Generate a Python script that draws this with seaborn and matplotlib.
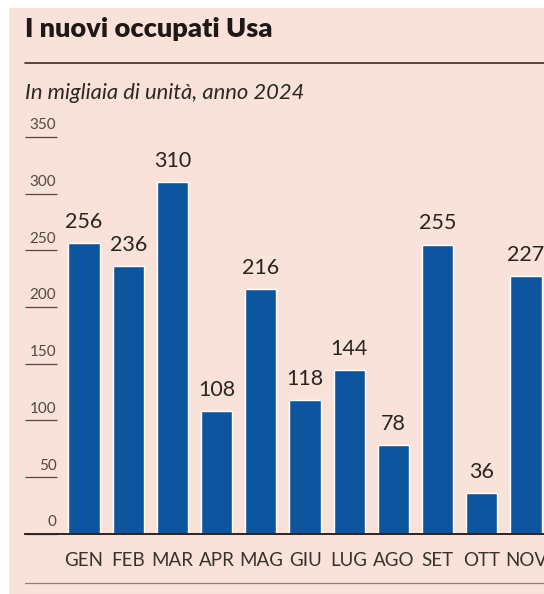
import matplotlib
matplotlib.use("Agg")
import matplotlib.pyplot as plt
import seaborn as sns
import pandas as pd
from matplotlib.lines import Line2D
from matplotlib.patches import Rectangle

months = ["GEN", "FEB", "MAR", "APR", "MAG", "GIU", "LUG", "AGO", "SET", "OTT", "NOV"]
values = [256, 236, 310, 108, 216, 118, 144, 78, 255, 36, 227]
yticks = [0, 50, 100, 150, 200, 250, 300, 350]
title = "I nuovi occupati Usa"
subtitle = "In migliaia di unità, anno 2024"

BG = "#f8e2d9"
BAR = "#0d559f"
DARK = "#2b2320"
TICK = "#55483f"

sns.set_theme(style="white")
plt.rcParams["font.family"] = ["Lato", "DejaVu Sans"]

W, H = 544, 594
fig = plt.figure(figsize=(W / 100, H / 100), dpi=100)
fig.patch.set_facecolor("white")
fig.patches.append(Rectangle((9 / W, 0), 1, 1 - 8 / H, transform=fig.transFigure,
                             facecolor=BG, edgecolor="none", zorder=-5))

# axes geometry (pixels)
x0_px, step_px = 84.0, 44.2
left_px = 25.0
base_px = 533.7
ppu = 1.134
ymax = 356
xmin = -(x0_px - left_px) / step_px
xmax = 11.0
ax_w = (xmax - xmin) * step_px
ax_h = ymax * ppu
ax = fig.add_axes([left_px / W, (H - base_px) / H, ax_w / W, ax_h / H])
ax.set_facecolor("none")
ax.set_zorder(2)

df = pd.DataFrame({"mese": months, "valore": values})
sns.barplot(data=df, x="mese", y="valore", color=BAR, saturation=1, width=0.71, ax=ax)
ax.set_xlim(xmin, xmax)
ax.set_ylim(0, ymax)
ax.set_xlabel("")
ax.set_ylabel("")

for i, v in enumerate(values):
    ax.annotate(str(v), xy=(i, v), xytext=(0, 8), textcoords="offset points",
                ha="center", va="bottom", fontsize=15.5, color=DARK)

ax.set_yticks(yticks)
ax.tick_params(axis="y", direction="in", length=23, width=0.9, color=TICK,
               labelleft=False, left=True)
for t in yticks:
    ax.annotate(str(t), xy=(0, t), xycoords=ax.get_yaxis_transform(),
                xytext=(22.6, 3.2), textcoords="offset points",
                ha="right", va="bottom", fontsize=11, color=TICK)

ax.tick_params(axis="x", length=0, pad=13, labelsize=13.5, labelcolor="#3a302c")
for s in ["left", "right", "top"]:
    ax.spines[s].set_visible(False)
ax.spines["bottom"].set_color("#2e2320")
ax.spines["bottom"].set_linewidth(1.4)

# header
fig.text(25 / W, 1 - 29 / H, title, fontsize=19.5, fontweight="heavy", color="#1e1816",
         ha="left", va="center")
fig.add_artist(Line2D([25 / W, 1], [1 - 63 / H, 1 - 63 / H], color="#3a2a25", lw=1.2))
fig.text(25 / W, 1 - 93 / H, subtitle, fontsize=15.8, fontstyle="italic", color="#2e2624",
         ha="left", va="center")
fig.add_artist(Line2D([25 / W, 1], [1 - 583 / H, 1 - 583 / H], color="#9a7a70", lw=0.9))

fig.savefig("out.png", dpi=100, facecolor=fig.get_facecolor())
